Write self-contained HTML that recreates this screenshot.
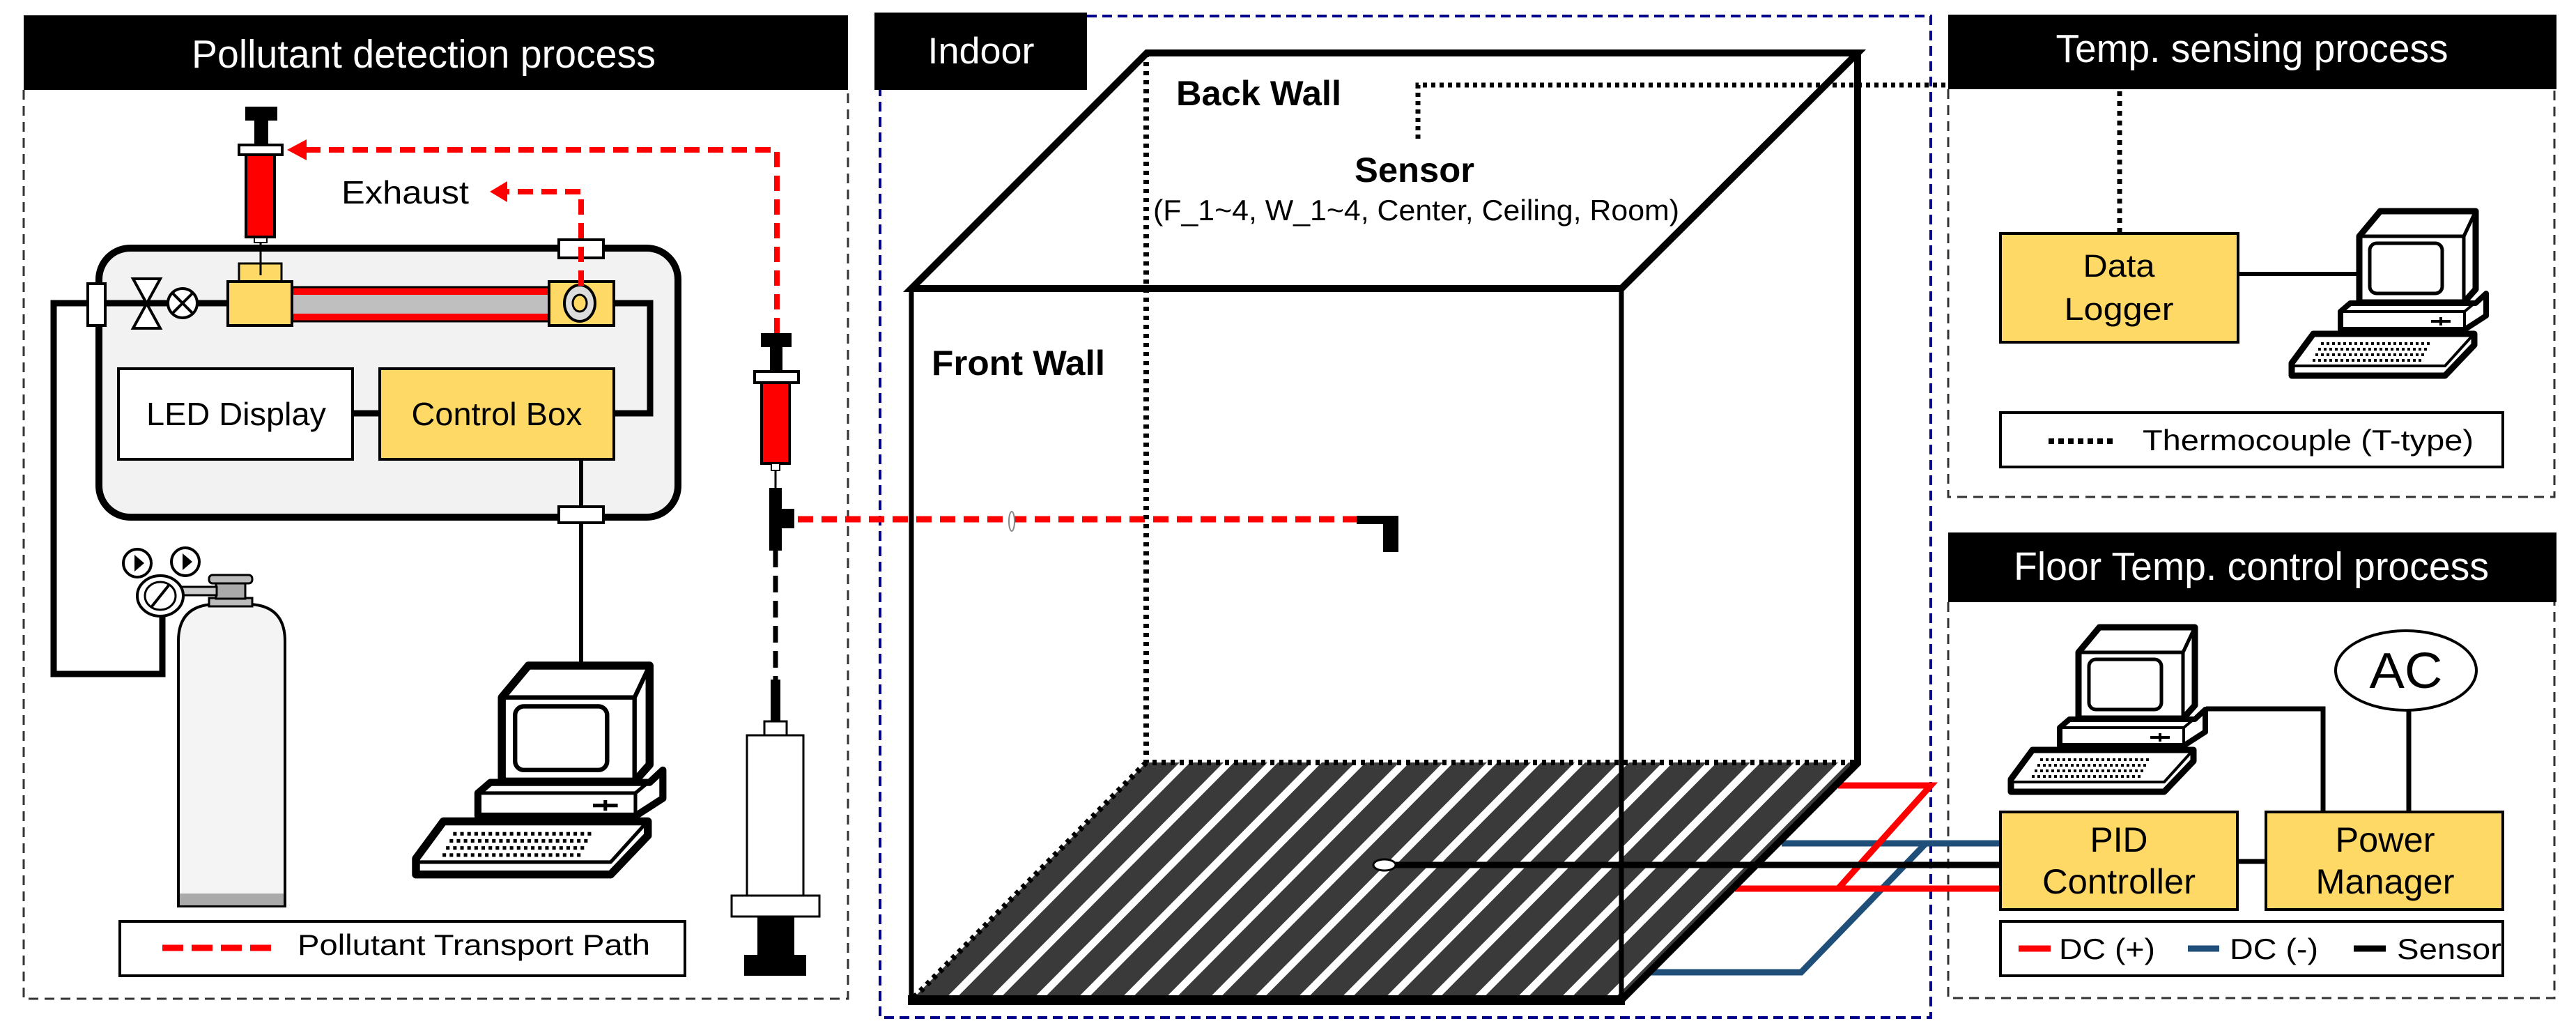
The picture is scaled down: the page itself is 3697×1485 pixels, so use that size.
<!DOCTYPE html>
<html><head><meta charset="utf-8"><style>html,body{margin:0;padding:0;background:#fff}svg{display:block}text{font-family:"Liberation Sans",Arial,sans-serif}</style></head><body>
<svg xmlns="http://www.w3.org/2000/svg" width="3697" height="1485" viewBox="0 0 3697 1485">
<defs>
<marker id="ah" markerWidth="6" markerHeight="6" refX="1" refY="3" orient="auto" markerUnits="strokeWidth"><path d="M0,3 L5,0 L5,6 Z" fill="#f00"/></marker>
<pattern id="stripes" patternUnits="userSpaceOnUse" width="63" height="341" patternTransform="translate(1645,1094) skewX(-44.8)">
<rect width="63" height="341" fill="#3a3a3a"/><rect x="48" width="15" height="341" fill="#fff"/></pattern>
<g id="pc" stroke="#000" stroke-linejoin="round">
<path d="M97,36 L127,0 L264,0 L264,112 L247,131 L97,131 Z" fill="#fff" stroke-width="9"/>
<path d="M97,36 L247,36 L264,0 M247,36 L247,131" fill="none" stroke-width="5"/>
<rect x="112" y="46" width="104" height="72" rx="10" fill="#fff" stroke-width="5"/>
<path d="M70,144 L84,132 L264,132 L279,118 L279,150 L248,170 L70,170 Z" fill="#fff" stroke-width="8"/>
<path d="M72,144 L248,144 L272,124 M248,144 L248,170" fill="none" stroke-width="4"/>
<path d="M200,158 L228,158 M214,152 L214,164" stroke-width="4"/>
<path d="M31,176 L262,176 L262,192 L220,236 L0,236 L0,218 Z" fill="#fff" stroke-width="9"/>
<path d="M4,222 L220,222 L258,180" fill="none" stroke-width="4"/>
<path d="M42,190 L200,190 M38,198 L196,198 M34,206 L192,206 M30,214 L188,214" stroke-width="4" stroke-dasharray="4 4" fill="none"/>
</g>
</defs>
<rect width="3697" height="1485" fill="#fff"/>

<!-- Panels -->
<rect x="34" y="22" width="1183" height="107" fill="#000"/>
<text x="608" y="97" font-size="57" fill="#fff" text-anchor="middle" textLength="666" lengthAdjust="spacingAndGlyphs">Pollutant detection process</text>
<path d="M34,129 L34,1433 L1217,1433 L1217,129" fill="none" stroke="#333" stroke-width="3" stroke-dasharray="14 9"/>

<rect x="1255" y="18" width="305" height="111" fill="#000"/>
<text x="1408" y="91" font-size="53" fill="#fff" text-anchor="middle" textLength="153" lengthAdjust="spacingAndGlyphs">Indoor</text>
<path d="M1560,23 L2771,23 L2771,1460 L1263,1460 L1263,129" fill="none" stroke="#00008b" stroke-width="4" stroke-dasharray="14 8"/>

<rect x="2796" y="21" width="873" height="107" fill="#000"/>
<text x="3232" y="89" font-size="57" fill="#fff" text-anchor="middle" textLength="563" lengthAdjust="spacingAndGlyphs">Temp. sensing process</text>
<path d="M2796,128 L2796,713 L3666,713 L3666,128" fill="none" stroke="#333" stroke-width="3" stroke-dasharray="14 9"/>

<rect x="2796" y="764" width="873" height="100" fill="#000"/>
<text x="3231" y="832" font-size="57" fill="#fff" text-anchor="middle" textLength="682" lengthAdjust="spacingAndGlyphs">Floor Temp. control process</text>
<path d="M2796,864 L2796,1432 L3666,1432 L3666,864" fill="none" stroke="#333" stroke-width="3" stroke-dasharray="14 9"/>

<!-- Left: pipes -->
<path d="M142,435 L77,435 L77,967 L233,967 L233,880" fill="none" stroke="#000" stroke-width="9"/>
<!-- main box -->
<rect x="142" y="356" width="831" height="386" rx="45" fill="#f2f2f2" stroke="#000" stroke-width="10"/>
<path d="M142,435 L327,435" stroke="#000" stroke-width="9"/>
<path d="M881,435 L933,435 L933,593 L881,593" fill="none" stroke="#000" stroke-width="9"/>
<path d="M506,593 L545,593" stroke="#000" stroke-width="9"/>
<path d="M834,659 L834,955" stroke="#000" stroke-width="6"/>
<rect x="126" y="407" width="25" height="60" fill="#fff" stroke="#000" stroke-width="4"/>
<path d="M191,400 L230,400 L191,471 L230,471 Z" fill="#fff" stroke="#000" stroke-width="4"/>
<circle cx="262" cy="435" r="21" fill="#fff" stroke="#000" stroke-width="4"/>
<path d="M247,420 L277,450 M277,420 L247,450" stroke="#000" stroke-width="4"/>
<!-- tube -->
<rect x="419" y="412" width="369" height="49" fill="#f00" stroke="#000" stroke-width="3"/>
<rect x="419" y="423" width="369" height="27" fill="#bfbfbf"/>
<rect x="343" y="378" width="61" height="26" fill="#ffd966" stroke="#000" stroke-width="3"/>
<rect x="327" y="404" width="92" height="63" fill="#ffd966" stroke="#000" stroke-width="4"/>
<rect x="788" y="404" width="93" height="63" fill="#ffd966" stroke="#000" stroke-width="4"/>
<ellipse cx="832" cy="435" rx="22" ry="26" fill="#ddd" stroke="#000" stroke-width="4"/>
<ellipse cx="832" cy="435" rx="10" ry="12" fill="#ffd966" stroke="#000" stroke-width="3"/>
<rect x="802" y="344" width="64" height="26" fill="#fff" stroke="#000" stroke-width="4"/>
<rect x="802" y="727" width="64" height="23" fill="#fff" stroke="#000" stroke-width="4"/>
<!-- LED/Control -->
<rect x="170" y="529" width="336" height="130" fill="#fff" stroke="#000" stroke-width="4"/>
<text x="339" y="610" font-size="46" text-anchor="middle" textLength="258" lengthAdjust="spacingAndGlyphs">LED Display</text>
<rect x="545" y="529" width="336" height="130" fill="#ffd966" stroke="#000" stroke-width="4"/>
<text x="713" y="610" font-size="46" text-anchor="middle" textLength="245" lengthAdjust="spacingAndGlyphs">Control Box</text>

<!-- top syringe -->
<line x1="374" y1="340" x2="374" y2="395" stroke="#000" stroke-width="3"/>
<rect x="365" y="338" width="18" height="10" fill="#fff" stroke="#000" stroke-width="2"/>
<rect x="352" y="153" width="46" height="20" fill="#000"/>
<rect x="365" y="170" width="20" height="40" fill="#000"/>
<rect x="343" y="208" width="62" height="14" fill="#fff" stroke="#000" stroke-width="4"/>
<rect x="353" y="222" width="41" height="118" fill="#f00" stroke="#000" stroke-width="4"/>
<!-- red dashed paths -->
<path d="M1115,478 L1115,215 L430,215" fill="none" stroke="#f00" stroke-width="8" stroke-dasharray="22 12"/>
<path d="M412,215 L440,200 L440,230 Z" fill="#f00"/>
<path d="M834,410 L834,275 L720,275" fill="none" stroke="#f00" stroke-width="8" stroke-dasharray="22 12"/>
<path d="M703,275 L728,260 L728,290 Z" fill="#f00"/>
<text x="490" y="292" font-size="46" textLength="183" lengthAdjust="spacingAndGlyphs">Exhaust</text>

<!-- right syringe -->
<rect x="1092" y="478" width="44" height="20" fill="#000"/>
<rect x="1105" y="496" width="18" height="40" fill="#000"/>
<rect x="1083" y="533" width="63" height="16" fill="#fff" stroke="#000" stroke-width="4"/>
<rect x="1093" y="549" width="40" height="116" fill="#f00" stroke="#000" stroke-width="4"/>
<rect x="1107" y="665" width="12" height="10" fill="#fff" stroke="#000" stroke-width="2"/>
<line x1="1113" y1="675" x2="1113" y2="705" stroke="#000" stroke-width="3"/>
<rect x="1104" y="700" width="18" height="90" fill="#000"/>
<rect x="1118" y="730" width="22" height="28" fill="#000"/>
<path d="M1145,745 L1947,745" stroke="#f00" stroke-width="9" stroke-dasharray="22 12"/>
<ellipse cx="1452" cy="748" rx="4" ry="14" fill="#fff" stroke="#888" stroke-width="2"/>
<path d="M1947,740 L2007,740 L2007,792 L1985,792 L1985,752 L1947,752 Z" fill="#000"/>
<path d="M1113,790 L1113,975" stroke="#000" stroke-width="7" stroke-dasharray="24 12"/>
<rect x="1106" y="975" width="14" height="60" fill="#000"/>
<rect x="1097" y="1035" width="32" height="20" fill="#fff" stroke="#000" stroke-width="3"/>
<rect x="1072" y="1055" width="81" height="230" fill="#fff" stroke="#000" stroke-width="3"/>
<rect x="1050" y="1285" width="126" height="30" fill="#fff" stroke="#000" stroke-width="3"/>
<rect x="1087" y="1315" width="53" height="55" fill="#000"/>
<rect x="1068" y="1370" width="89" height="30" fill="#000"/>

<!-- gas tank -->
<path d="M256,1300 L256,920 Q256,870 305,867 L360,867 Q409,870 409,920 L409,1300 Z" fill="#f4f4f4" stroke="#000" stroke-width="4"/>
<rect x="258" y="1282" width="149" height="17" fill="#aaa"/>
<rect x="300" y="858" width="62" height="12" fill="#bbb" stroke="#000" stroke-width="3"/>
<rect x="310" y="835" width="42" height="24" fill="#aaa" stroke="#000" stroke-width="3"/>
<rect x="300" y="825" width="62" height="12" rx="5" fill="#bbb" stroke="#000" stroke-width="3"/>
<rect x="255" y="842" width="56" height="12" fill="#ccc" stroke="#000" stroke-width="3"/>
<ellipse cx="230" cy="855" rx="33" ry="29" fill="#fff" stroke="#000" stroke-width="4"/>
<ellipse cx="230" cy="855" rx="22" ry="20" fill="#fff" stroke="#000" stroke-width="3"/>
<line x1="218" y1="870" x2="242" y2="840" stroke="#000" stroke-width="4"/>
<circle cx="197" cy="808" r="20" fill="#fff" stroke="#000" stroke-width="4"/>
<path d="M193,796 L207,808 L193,820 Z" fill="#000"/>
<circle cx="266" cy="806" r="20" fill="#fff" stroke="#000" stroke-width="4"/>
<path d="M262,794 L276,806 L262,818 Z" fill="#000"/>

<use href="#pc" transform="translate(597,955) scale(1.27)"/>

<rect x="172" y="1322" width="811" height="78" fill="#fff" stroke="#000" stroke-width="4"/>
<path d="M233,1360 L390,1360" stroke="#f00" stroke-width="9" stroke-dasharray="30 12"/>
<text x="427" y="1370" font-size="42" textLength="506" lengthAdjust="spacingAndGlyphs">Pollutant Transport Path</text>

<!-- Cube -->
<polygon points="1645,1094 2666,1094 2327,1435 1308,1435" fill="url(#stripes)"/>
<path d="M1645,76 L1645,1094 L2666,1094 M1645,1094 L1308,1435" fill="none" stroke="#000" stroke-width="8" stroke-dasharray="6 7"/>
<!-- colored wires -->
<path d="M2365,1395 L2585,1395 L2764,1210 M2557,1210 L2871,1210" fill="none" stroke="#1f4e79" stroke-width="9"/>
<path d="M2638,1127 L2771,1127 L2638,1275 M2490,1275 L2871,1275" fill="none" stroke="#f00" stroke-width="9"/>
<path d="M2000,1241 L2871,1241" stroke="#000" stroke-width="9"/>
<ellipse cx="1987" cy="1241" rx="16" ry="8" fill="#fff" stroke="#000" stroke-width="3"/>
<path d="M1308,414 L1646,76 L2666,76 L2327,414 Z M2666,76 L2666,1095 L2327,1435" fill="none" stroke="#000" stroke-width="10" stroke-linejoin="miter"/>
<path d="M1308,414 L1308,1435 M2327,414 L2327,1435" stroke="#000" stroke-width="7"/>
<path d="M1303,1435 L2332,1435" stroke="#000" stroke-width="14"/>
<!-- sensor dotted -->
<path d="M2035,199 L2035,122 L2796,122" fill="none" stroke="#000" stroke-width="7" stroke-dasharray="6 6"/>
<text x="1688" y="151" font-size="50" font-weight="bold" textLength="237" lengthAdjust="spacingAndGlyphs">Back Wall</text>
<text x="1944" y="261" font-size="50" font-weight="bold" textLength="172" lengthAdjust="spacingAndGlyphs">Sensor</text>
<text x="1655" y="316" font-size="42" textLength="755" lengthAdjust="spacingAndGlyphs">(F_1~4, W_1~4, Center, Ceiling, Room)</text>
<text x="1337" y="538" font-size="50" font-weight="bold" textLength="249" lengthAdjust="spacingAndGlyphs">Front Wall</text>

<!-- Temp sensing -->
<path d="M3042,131 L3042,335" stroke="#000" stroke-width="7" stroke-dasharray="7 7"/>
<rect x="2871" y="335" width="341" height="156" fill="#ffd966" stroke="#000" stroke-width="4"/>
<text x="3041" y="397" font-size="45" text-anchor="middle" textLength="103" lengthAdjust="spacingAndGlyphs">Data</text>
<text x="3041" y="459" font-size="45" text-anchor="middle" textLength="157" lengthAdjust="spacingAndGlyphs">Logger</text>
<path d="M3212,393 L3386,393" stroke="#000" stroke-width="6"/>
<use href="#pc" transform="translate(3289,303)"/>
<rect x="2871" y="592" width="721" height="78" fill="#fff" stroke="#000" stroke-width="4"/>
<path d="M2940,633 L3032,633" stroke="#000" stroke-width="8" stroke-dasharray="8 6"/>
<text x="3075" y="646" font-size="42" textLength="475" lengthAdjust="spacingAndGlyphs">Thermocouple (T-type)</text>

<!-- Floor control -->
<use href="#pc" transform="translate(2886,900)"/>
<path d="M3166,1017 L3334,1017 L3334,1165 M3457,1020 L3457,1165 M3211,1236 L3252,1236" fill="none" stroke="#000" stroke-width="7"/>
<ellipse cx="3453" cy="962" rx="101" ry="57" fill="#fff" stroke="#000" stroke-width="4"/>
<text x="3453" y="987" font-size="72" text-anchor="middle" textLength="105" lengthAdjust="spacingAndGlyphs">AC</text>
<rect x="2871" y="1165" width="340" height="140" fill="#ffd966" stroke="#000" stroke-width="4"/>
<text x="3041" y="1222" font-size="50" text-anchor="middle" textLength="83" lengthAdjust="spacingAndGlyphs">PID</text>
<text x="3041" y="1282" font-size="50" text-anchor="middle" textLength="220" lengthAdjust="spacingAndGlyphs">Controller</text>
<rect x="3252" y="1165" width="340" height="140" fill="#ffd966" stroke="#000" stroke-width="4"/>
<text x="3423" y="1222" font-size="50" text-anchor="middle" textLength="143" lengthAdjust="spacingAndGlyphs">Power</text>
<text x="3423" y="1282" font-size="50" text-anchor="middle" textLength="199" lengthAdjust="spacingAndGlyphs">Manager</text>
<rect x="2871" y="1322" width="721" height="78" fill="#fff" stroke="#000" stroke-width="4"/>
<path d="M2897,1361 L2943,1361" stroke="#f00" stroke-width="9"/>
<text x="2955" y="1376" font-size="42" textLength="138" lengthAdjust="spacingAndGlyphs">DC (+)</text>
<path d="M3140,1361 L3185,1361" stroke="#1f4e79" stroke-width="9"/>
<text x="3200" y="1376" font-size="42" textLength="127" lengthAdjust="spacingAndGlyphs">DC (-)</text>
<path d="M3378,1361 L3424,1361" stroke="#000" stroke-width="9"/>
<text x="3440" y="1376" font-size="42" textLength="150" lengthAdjust="spacingAndGlyphs">Sensor</text>
</svg>
</body></html>
